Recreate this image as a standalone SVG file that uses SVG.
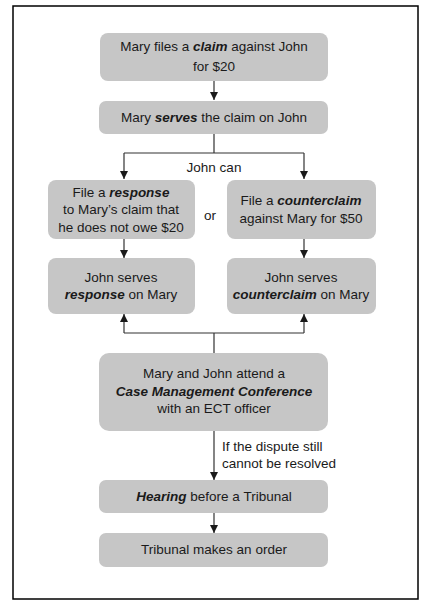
<svg xmlns="http://www.w3.org/2000/svg" width="428" height="607" viewBox="0 0 428 607">
<defs>
<marker id="ah" viewBox="0 0 10 10" refX="10" refY="5" markerWidth="8" markerHeight="8" markerUnits="userSpaceOnUse" orient="auto">
<path d="M0,0 L10,5 L0,10 z" fill="#1a1a1a"/>
</marker>
<style>
.box{fill:#c6c6c6;stroke:none}
.t{font-family:"Liberation Sans",Arial,sans-serif;font-size:13.5px;fill:#1a1a1a;text-anchor:middle}
.l{font-family:"Liberation Sans",Arial,sans-serif;font-size:13.5px;fill:#1a1a1a}
.b{font-weight:bold;font-style:italic}
.c{fill:none;stroke:#333;stroke-width:1.2}
</style>
</defs>
<rect x="0" y="0" width="428" height="607" fill="#fff"/>
<rect x="13" y="6" width="405" height="593" fill="none" stroke="#000" stroke-width="1.5"/>

<g id="connectors">
<path class="c" d="M214,81 V100" marker-end="url(#ah)"/>
<path class="c" d="M214,134 V153 M124,153 H304"/>
<path class="c" d="M124,153 V179" marker-end="url(#ah)"/>
<path class="c" d="M304,153 V179" marker-end="url(#ah)"/>
<path class="c" d="M124,239 V258" marker-end="url(#ah)"/>
<path class="c" d="M304,239 V258" marker-end="url(#ah)"/>
<path class="c" d="M214,353 V333 M124,333 H304"/>
<path class="c" d="M124,333 V314" marker-end="url(#ah)"/>
<path class="c" d="M304,333 V314" marker-end="url(#ah)"/>
<path class="c" d="M214,431 V480" marker-end="url(#ah)"/>
<path class="c" d="M214,513 V533" marker-end="url(#ah)"/>
<text class="t" x="214" y="172">John can</text>
<text class="t" x="210" y="220">or</text>
<text class="l" x="222" y="451">If the dispute still</text>
<text class="l" x="222" y="468">cannot be resolved</text>
</g>

<g id="n1">
<rect class="box" x="100" y="33" width="228" height="48" rx="8"/>
<text class="t" x="214" y="51">Mary files a <tspan class="b">claim</tspan> against John</text>
<text class="t" x="214" y="71">for $20</text>
</g>
<g id="n2">
<rect class="box" x="99" y="101" width="229" height="33" rx="7"/>
<text class="t" x="214" y="122">Mary <tspan class="b">serves</tspan> the claim on John</text>
</g>
<g id="n3">
<rect class="box" x="48" y="180" width="147" height="59" rx="8"/>
<text class="t" x="121" y="197">File a <tspan class="b">response</tspan></text>
<text class="t" x="121" y="214">to Mary’s claim that</text>
<text class="t" x="121" y="232">he does not owe $20</text>
</g>
<g id="n4">
<rect class="box" x="227" y="180" width="149" height="59" rx="8"/>
<text class="t" x="301" y="205">File a <tspan class="b">counterclaim</tspan></text>
<text class="t" x="301" y="223">against Mary for $50</text>
</g>
<g id="n5">
<rect class="box" x="48" y="258" width="147" height="56" rx="8"/>
<text class="t" x="121" y="282">John serves</text>
<text class="t" x="121" y="299"><tspan class="b">response</tspan> on Mary</text>
</g>
<g id="n6">
<rect class="box" x="227" y="258" width="149" height="56" rx="8"/>
<text class="t" x="301" y="282">John serves</text>
<text class="t" x="301" y="299"><tspan class="b">counterclaim</tspan> on Mary</text>
</g>
<g id="n7">
<rect class="box" x="99" y="353" width="229" height="78" rx="10"/>
<text class="t" x="214" y="378">Mary and John attend a</text>
<text class="t" x="214" y="396"><tspan class="b">Case Management Conference</tspan></text>
<text class="t" x="214" y="413">with an ECT officer</text>
</g>
<g id="n8">
<rect class="box" x="99" y="480" width="229" height="33" rx="7"/>
<text class="t" x="214" y="501"><tspan class="b">Hearing</tspan> before a Tribunal</text>
</g>
<g id="n9">
<rect class="box" x="99" y="533" width="229" height="34" rx="7"/>
<text class="t" x="214" y="554">Tribunal makes an order</text>
</g>
</svg>
